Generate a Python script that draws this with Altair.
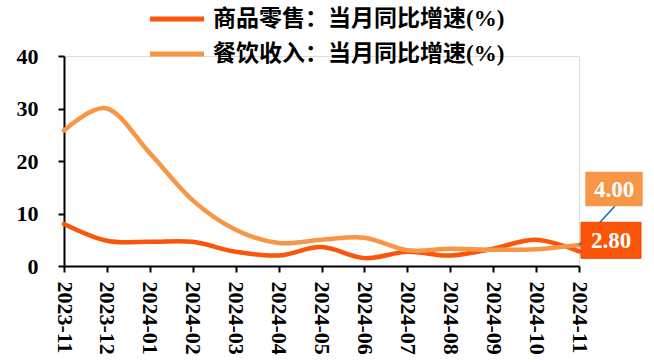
import altair as alt
import pandas as pd

# Monthly year-on-year growth (%), Nov 2023 - Nov 2024
months = ["2023-11", "2023-12", "2024-01", "2024-02", "2024-03", "2024-04", "2024-05",
          "2024-06", "2024-07", "2024-08", "2024-09", "2024-10", "2024-11"]
goods = [8.0, 4.8, 4.6, 4.6, 2.7, 2.0, 3.6, 1.5, 2.7, 2.0, 3.3, 5.0, 2.8]
catering = [25.8, 30.0, 21.5, 12.5, 6.9, 4.4, 5.0, 5.4, 3.0, 3.3, 3.1, 3.2, 4.0]

series_names = ["商品零售：当月同比增速(%)", "餐饮收入：当月同比增速(%)"]
series_colors = ["#FA5508", "#F79646"]

FONT = "Liberation Serif, Noto Sans CJK SC"

rows = []
for name, vals in zip(series_names, [goods, catering]):
    for m, v in zip(months, vals):
        rows.append({"month": m, "series": name, "value": v})
df = pd.DataFrame(rows)

last = pd.DataFrame({
    "month": [months[-1], months[-1]],
    "series": series_names,
    "value": [goods[-1], catering[-1]],
})
last["label"] = last["value"].map(lambda v: f"{v:.2f}")

x_enc = alt.X("month:O", sort=months, scale=alt.Scale(type="point", padding=0),
              axis=alt.Axis(title=None, labelAngle=90, labelAlign="left", labelBaseline="middle",
                            labelPadding=9, labelFont=FONT, labelFontSize=22, labelFontWeight="bold",
                            labelColor="black", domainColor="black", domainWidth=2,
                            tickColor="black", tickWidth=2, tickSize=6, grid=False))
y_enc = alt.Y("value:Q", scale=alt.Scale(domain=[0, 40], nice=False),
              axis=alt.Axis(title=None, values=[0, 10, 20, 30, 40], labelPadding=20,
                            labelFont=FONT, labelFontSize=22, labelFontWeight="bold",
                            labelColor="black", domainColor="black", domainWidth=2,
                            tickColor="black", tickWidth=2, tickSize=6, grid=False))

# wide flat legend swatch: a horizontal stroke longer than the symbol's nominal box
legend_swatch = "M-1.64,0H1.64"
color_enc = alt.Color("series:N", scale=alt.Scale(domain=series_names, range=series_colors),
                      legend=alt.Legend(title=None, orient="none", legendX=94, legendY=-56,
                                        direction="vertical", symbolType=legend_swatch,
                                        symbolSize=1089, symbolStrokeWidth=5,
                                        labelFont=FONT, labelFontSize=23, labelFontWeight="bold",
                                        labelColor="black", labelOffset=17, labelLimit=0,
                                        rowPadding=4))

lines = alt.Chart(df).mark_line(interpolate="cardinal", strokeWidth=4.5, strokeCap="round").encode(
    x=x_enc, y=y_enc, color=color_enc
)

# leader line from the catering end point up to its value box
leader_df = last[last["series"] == series_names[1]]
leader = alt.Chart(leader_df).mark_rule(color="#1070C0", strokeWidth=1.6, x2Offset=36, y2Offset=-39).encode(
    x=alt.X("month:O", sort=months), x2="month", y="value:Q", y2="value"
)

box_shape = "M-1,-0.6H1V0.6H-1Z"
box_goods = alt.Chart(last[last["series"] == series_names[0]]).mark_point(
    shape=box_shape, size=3600, filled=True, opacity=1, xOffset=32, yOffset=-11,
    stroke="#E04A06", strokeWidth=1
).encode(x=alt.X("month:O", sort=months), y="value:Q", color=alt.value(series_colors[0]))
box_cat = alt.Chart(leader_df).mark_point(
    shape=box_shape, size=3300, filled=True, opacity=1, xOffset=35, yOffset=-56
).encode(x=alt.X("month:O", sort=months), y="value:Q", color=alt.value(series_colors[1]))

text_goods = alt.Chart(last[last["series"] == series_names[0]]).mark_text(
    font=FONT, fontSize=23, fontWeight="bold", color="white", dx=32, dy=-10, baseline="middle"
).encode(x=alt.X("month:O", sort=months), y="value:Q", text="label:N")
text_cat = alt.Chart(leader_df).mark_text(
    font=FONT, fontSize=23, fontWeight="bold", color="white", dx=35, dy=-55, baseline="middle"
).encode(x=alt.X("month:O", sort=months), y="value:Q", text="label:N")

chart = alt.layer(lines, leader, box_goods, box_cat, text_goods, text_cat).properties(
    width=515, height=210,
    autosize=alt.AutoSizeParams(type="none"),
    padding={"left": 64, "top": 56, "right": 75, "bottom": 96},
).configure_view(stroke=None).configure(background="white")

chart.save("out.html", embed_options={"renderer": "svg", "actions": False})
